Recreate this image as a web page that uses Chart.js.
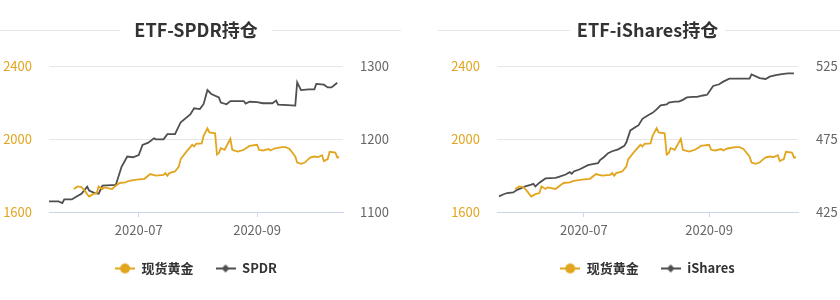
<!DOCTYPE html>
<html lang="zh">
<head>
<meta charset="UTF-8">
<title>ETF持仓</title>
<script src="https://cdn.jsdelivr.net/npm/chart.js"></script>
<style>
  body { margin: 0; background: #fff; }
  .wrap { display: flex; width: 840px; height: 300px; }
  .box { position: relative; width: 420px; height: 300px; }
</style>
</head>
<body>
<div class="wrap">
  <div class="box"><canvas id="spdrChart"></canvas></div>
  <div class="box"><canvas id="isharesChart"></canvas></div>
</div>
<script>
// 现货黄金 (both charts share it)
const goldDates = ['2020-05-28','2020-05-30','2020-06-01','2020-06-03','2020-06-04','2020-06-05','2020-06-07','2020-06-09','2020-06-10','2020-06-12',
  '2020-06-13','2020-06-17','2020-06-19','2020-06-21','2020-06-24','2020-06-26','2020-06-30','2020-07-04','2020-07-07','2020-07-10',
  '2020-07-14','2020-07-15','2020-07-16','2020-07-17','2020-07-20','2020-07-22','2020-07-23','2020-07-26','2020-07-29','2020-07-30',
  '2020-07-31','2020-08-03','2020-08-04','2020-08-06','2020-08-07','2020-08-10','2020-08-11','2020-08-12','2020-08-13','2020-08-15',
  '2020-08-18','2020-08-19','2020-08-22','2020-08-25','2020-08-27','2020-08-28','2020-09-01','2020-09-02','2020-09-04','2020-09-07',
  '2020-09-08','2020-09-10','2020-09-14','2020-09-16','2020-09-18','2020-09-21','2020-09-22','2020-09-24','2020-09-26','2020-09-28',
  '2020-09-29','2020-10-01','2020-10-03','2020-10-05','2020-10-06','2020-10-08','2020-10-09','2020-10-12','2020-10-13','2020-10-14'];
const goldValues = [1726,1740,1737,1713,1698,1685,1698,1704,1740,1726,
  1735,1726,1744,1759,1762,1771,1777,1782,1808,1799,
  1804,1813,1799,1813,1822,1849,1890,1931,1968,1959,
  1973,1976,2017,2059,2036,2031,1915,1923,1950,1941,
  2001,1941,1931,1941,1955,1963,1968,1941,1937,1945,
  1937,1948,1955,1955,1945,1904,1871,1864,1871,1891,
  1899,1904,1901,1911,1879,1890,1930,1926,1899,1900];

// SPDR 持仓 (吨)
const spdrDates = ['2020-05-15','2020-05-20','2020-05-22','2020-05-23','2020-05-27','2020-05-29','2020-06-01','2020-06-04','2020-06-05','2020-06-08',
  '2020-06-10','2020-06-12','2020-06-19','2020-06-22','2020-06-25','2020-06-28','2020-07-01','2020-07-03','2020-07-06','2020-07-09',
  '2020-07-10','2020-07-14','2020-07-16','2020-07-20','2020-07-23','2020-07-28','2020-07-30','2020-08-02','2020-08-04','2020-08-06',
  '2020-08-08','2020-08-12','2020-08-13','2020-08-16','2020-08-18','2020-08-25','2020-08-26','2020-08-28','2020-09-01','2020-09-04',
  '2020-09-09','2020-09-11','2020-09-12','2020-09-17','2020-09-21','2020-09-22','2020-09-24','2020-09-28','2020-10-01','2020-10-02',
  '2020-10-06','2020-10-08','2020-10-10','2020-10-13'];
const spdrValues = [1114.5,1114.5,1112.3,1117.2,1117.2,1120.5,1125,1134.6,1129.5,1126,
  1125,1136,1137,1162,1176,1175,1178,1192,1195,1201,
  1199.5,1199.5,1206.6,1206.6,1223,1233.7,1242,1241,1248,1267,
  1261.7,1257,1250,1247.6,1252,1252,1248.5,1251,1250.4,1249,
  1249,1252.6,1247,1246.3,1245.7,1277.7,1267,1268,1268,1275.4,
  1274.4,1270.6,1270.6,1277];

// iShares 持仓 (吨)
const isharesDates = ['2020-05-20','2020-05-22','2020-05-24','2020-05-27','2020-05-29','2020-05-31','2020-06-02','2020-06-05','2020-06-06','2020-06-07',
  '2020-06-09','2020-06-12','2020-06-17','2020-06-19','2020-06-22','2020-06-24','2020-06-25','2020-06-26','2020-06-29','2020-07-03',
  '2020-07-06','2020-07-08','2020-07-09','2020-07-11','2020-07-13','2020-07-15','2020-07-18','2020-07-21','2020-07-22','2020-07-24',
  '2020-07-27','2020-07-28','2020-07-30','2020-08-02','2020-08-04','2020-08-06','2020-08-08','2020-08-11','2020-08-12','2020-08-15',
  '2020-08-17','2020-08-19','2020-08-21','2020-08-24','2020-08-26','2020-08-29','2020-08-31','2020-09-03','2020-09-06','2020-09-08',
  '2020-09-11','2020-09-21','2020-09-22','2020-09-26','2020-09-29','2020-10-01','2020-10-04','2020-10-07','2020-10-10','2020-10-13'];
const isharesValues = [435.7,437,438,438.4,440.2,441.4,442.5,443.7,444.3,442.5,
  445.1,448,448.4,449.3,450.7,452.3,451.2,452.8,454.3,457.1,
  457.9,458.4,460.5,462.7,465.3,466.6,467.9,470.3,472.6,480.9,
  483.5,484.3,488.8,491.5,492.9,495.3,498,498.7,499.9,500.6,
  500.6,501.8,503.5,503.8,503.8,504.8,505.3,511.3,512.5,514.3,
  516.3,516.3,519.2,516.7,516.1,517.7,518.8,519.5,520,520];

const xTickDates = ['2020-07-01', '2020-09-01'];
const xTickLabels = ['2020-07', '2020-09'];

const GOLD = '#e2a51e';
const DARK = '#4f4f4f';
const AXIS = '#ccd6eb';
const FONT = '"Noto Sans CJK SC", "Noto Sans", sans-serif';

Chart.defaults.font.family = FONT;

// day number counted from 2020-01-01, so a linear axis can act as a date axis
function dayNum(s) {
  const p = s.split('-').map(Number);
  return (Date.UTC(p[0], p[1] - 1, p[2]) - Date.UTC(2020, 0, 1)) / 86400000;
}

function toPoints(dates, values) {
  return dates.map((d, i) => ({ x: dayNum(d), y: values[i] }));
}

// legend icon: short line with a marker on it
function makeIcon(color, shape) {
  const c = document.createElement('canvas');
  c.width = 20; c.height = 12;
  const g = c.getContext('2d');
  g.strokeStyle = color; g.fillStyle = color; g.lineWidth = 2;
  g.beginPath(); g.moveTo(0, 6); g.lineTo(20, 6); g.stroke();
  g.beginPath();
  if (shape === 'circle') {
    g.arc(10, 6, 5, 0, Math.PI * 2);
  } else {
    g.moveTo(10, 2); g.lineTo(14, 6); g.lineTo(10, 10); g.lineTo(6, 6); g.closePath();
  }
  g.fill();
  return c;
}

// thin rules left and right of the title
const titleLines = {
  id: 'titleLines',
  afterDraw(chart, args, opts) {
    const t = chart.titleBlock;
    if (!t) return;
    const ctx = chart.ctx;
    ctx.save();
    ctx.font = 'bold 18px ' + FONT;
    const w = ctx.measureText(chart.options.plugins.title.text).width;
    const cx = (t.left + t.right) / 2;
    ctx.strokeStyle = '#e6e6e6';
    ctx.lineWidth = 1;
    ctx.beginPath();
    ctx.moveTo(opts.from, opts.y + 0.5);
    ctx.lineTo(cx - w / 2 - opts.gap, opts.y + 0.5);
    ctx.moveTo(cx + w / 2 + opts.gap, opts.y + 0.5);
    ctx.lineTo(opts.to, opts.y + 0.5);
    ctx.stroke();
    ctx.restore();
  }
};

function buildChart(id, cfg) {
  const icons = [makeIcon(GOLD, 'circle'), makeIcon(DARK, 'diamond')];
  return new Chart(document.getElementById(id), {
    type: 'line',
    data: {
      datasets: [
        { label: '现货黄金', data: toPoints(goldDates, goldValues), yAxisID: 'y',
          borderColor: GOLD, borderWidth: 1.8, pointRadius: 0, tension: 0 },
        { label: cfg.name, data: toPoints(cfg.dates, cfg.values), yAxisID: 'y2',
          borderColor: DARK, borderWidth: 1.8, pointRadius: 0, tension: 0 }
      ]
    },
    options: {
      responsive: true,
      maintainAspectRatio: false,
      animation: false,
      events: [],
      layout: { padding: { left: 0, right: 0, top: 0, bottom: 15 } },
      plugins: {
        title: {
          display: true, text: cfg.title, fullSize: false, color: '#333',
          font: { size: 18, weight: 'bold' }, padding: { top: 19, bottom: 25.4 }
        },
        legend: {
          position: 'bottom', fullSize: false,
          labels: {
            usePointStyle: true, pointStyleWidth: 20, padding: 22, color: '#333',
            font: { size: 13, weight: 'bold' },
            generateLabels: chart => chart.data.datasets.map((ds, i) => ({
              text: ds.label, pointStyle: icons[i], datasetIndex: i, hidden: false,
              fillStyle: 'transparent', strokeStyle: 'transparent', lineWidth: 0, fontColor: '#333'
            }))
          }
        },
        tooltip: { enabled: false },
        titleLines: cfg.lines
      },
      scales: {
        x: {
          type: 'linear', min: dayNum(cfg.xMin), max: dayNum(cfg.xMax),
          afterBuildTicks: s => { s.ticks = xTickDates.map(d => ({ value: dayNum(d) })); },
          afterFit: s => { s.height = 28; },
          ticks: {
            autoSkip: false, maxRotation: 0, color: '#666', font: { size: 13 }, padding: 5,
            callback: v => xTickLabels[xTickDates.findIndex(d => dayNum(d) === v)]
          },
          grid: { drawOnChartArea: false, drawTicks: true, tickLength: 5, color: AXIS },
          border: { color: AXIS }
        },
        y: {
          position: 'left', min: 1600, max: 2400,
          afterFit: s => { s.width = cfg.leftW; },
          ticks: { stepSize: 400, color: GOLD, font: { size: 13 }, padding: 17, callback: v => String(v) },
          grid: { drawTicks: false, color: c => c.tick && c.tick.value === 1600 ? 'rgba(0,0,0,0)' : '#e6e6e6' },
          border: { display: false }
        },
        y2: {
          position: 'right', min: cfg.yMin, max: cfg.yMax,
          afterFit: s => { s.width = cfg.rightW; },
          ticks: { stepSize: cfg.yStep, color: '#666', font: { size: 13 }, padding: cfg.rightPad, callback: v => String(v) },
          grid: { drawOnChartArea: false, drawTicks: false },
          border: { display: false }
        }
      }
    },
    plugins: [titleLines]
  });
}

buildChart('spdrChart', {
  title: 'ETF-SPDR持仓', name: 'SPDR', dates: spdrDates, values: spdrValues,
  yMin: 1100, yMax: 1300, yStep: 100, xMin: '2020-05-15', xMax: '2020-10-16',
  leftW: 49, rightW: 77, rightPad: 17,
  lines: { y: 30, from: 0, to: 401, gap: 14 }
});

buildChart('isharesChart', {
  title: 'ETF-iShares持仓', name: 'iShares', dates: isharesDates, values: isharesValues,
  yMin: 425, yMax: 525, yStep: 50, xMin: '2020-05-19', xMax: '2020-10-15',
  leftW: 77, rightW: 42, rightPad: 18,
  lines: { y: 30, from: 18, to: 420, gap: 7 }
});
</script>
</body>
</html>
